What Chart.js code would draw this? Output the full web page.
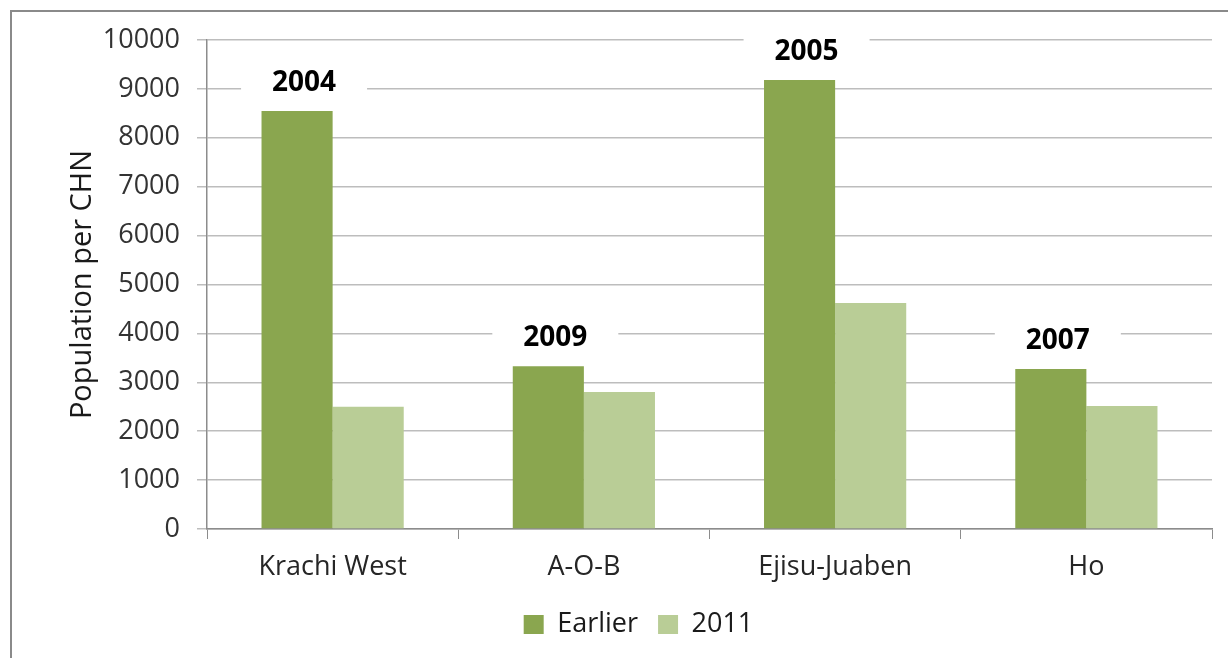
<!DOCTYPE html>
<html>
<head>
<meta charset="utf-8">
<script src="https://cdn.jsdelivr.net/npm/chart.js@4"></script>
<style>
  html, body { margin: 0; padding: 0; background: #fff; }
  body { width: 1228px; height: 658px; position: relative; overflow: hidden; }
  #frame {
    position: absolute; left: 10px; top: 10px; width: 1300px; height: 700px;
    border-left: 2px solid #8a8a8a; border-top: 2px solid #8a8a8a;
  }
  #wrap { position: absolute; left: 0; top: 0; width: 1228px; height: 658px; }
</style>
</head>
<body>
<div id="frame"></div>
<div id="wrap"><canvas id="myChart"></canvas></div>
<script>
// data
const categories = ["Krachi West", "A-O-B", "Ejisu-Juaben", "Ho"];
const earlier = [8550, 3330, 9180, 3270];
const latest = [2500, 2800, 4620, 2515];
const earlierYears = ["2004", "2009", "2005", "2007"];
const seriesNames = ["Earlier", "2011"];
const barColors = ["#8aa64f", "#b9cd96"];

const fontName = "'Open Sans', 'Noto Sans', sans-serif";

// year labels above the "Earlier" bars, with a white box that cuts the gridlines
const yearLabels = {
  id: "yearLabels",
  afterDatasetsDraw(chart) {
    const ctx = chart.ctx;
    const meta = chart.getDatasetMeta(0);
    ctx.save();
    meta.data.forEach((bar, i) => {
      const cx = bar.x + 7;
      const cy = bar.y - 28;
      ctx.fillStyle = "#ffffff";
      ctx.fillRect(cx - 63, cy - 16, 126, 32);
      ctx.fillStyle = "#000000";
      ctx.font = "bold 28px " + fontName;
      ctx.textAlign = "center";
      ctx.textBaseline = "middle";
      ctx.fillText(earlierYears[i], cx, cy);
    });
    ctx.restore();
  },
};

new Chart("myChart", {
  type: "bar",
  data: {
    labels: categories,
    datasets: [
      { label: seriesNames[0], data: earlier, backgroundColor: barColors[0] },
      { label: seriesNames[1], data: latest, backgroundColor: barColors[1] },
    ],
  },
  options: {
    responsive: true,
    maintainAspectRatio: false,
    animation: false,
    layout: { padding: { top: 40, right: 16, bottom: 10, left: 65 } },
    datasets: { bar: { categoryPercentage: 0.566, barPercentage: 1.0 } },
    plugins: {
      legend: {
        position: "bottom",
        labels: {
          boxWidth: 20,
          boxHeight: 19,
          padding: 20,
          color: "#1a1a1a",
          font: { family: fontName, size: 27 },
        },
      },
      tooltip: { enabled: false },
    },
    scales: {
      x: {
        afterFit: (s) => { s.height = 62; },
        grid: {
          offset: true,
          drawOnChartArea: false,
          drawTicks: true,
          tickLength: 10,
          color: "#8c8c8c",
        },
        border: { color: "#8c8c8c", width: 1.5 },
        ticks: {
          color: "#262626",
          padding: 12,
          font: { family: fontName, size: 27 },
        },
      },
      y: {
        min: 0,
        max: 10000,
        afterFit: (s) => { s.width = 142; },
        grid: { color: "#bdbdbd", lineWidth: 1.5, tickLength: 10 },
        border: { color: "#8c8c8c", width: 1.5 },
        ticks: {
          stepSize: 1000,
          color: "#333333",
          padding: 17,
          font: { family: fontName, size: 27 },
          callback: (v) => String(v),
        },
        title: {
          display: true,
          text: "Population per CHN",
          color: "#1a1a1a",
          padding: { top: 0, bottom: 0 },
          font: { family: fontName, size: 29 },
        },
      },
    },
  },
  plugins: [yearLabels],
});
</script>
</body>
</html>
